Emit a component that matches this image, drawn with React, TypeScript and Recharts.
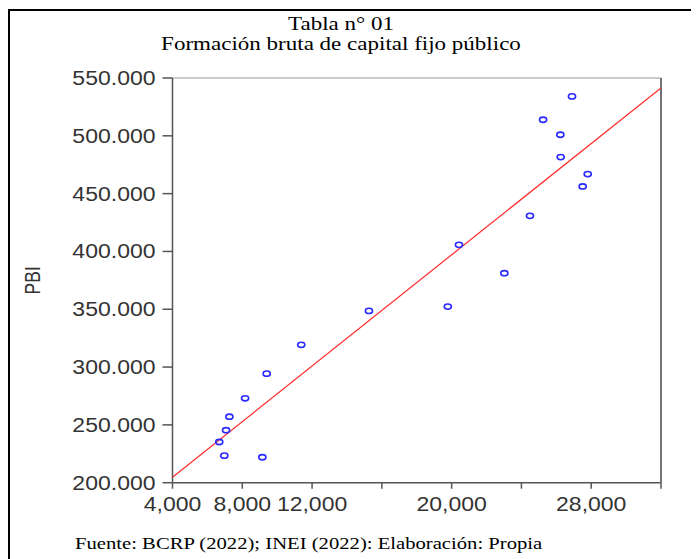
import { ScatterChart, Scatter, XAxis, YAxis, ReferenceLine } from "recharts";

// Formación bruta de capital fijo público (x) vs PBI (y)
const fbkfPublico = [6970, 9150, 6680, 7070, 7260, 8160, 9400, 11380, 15260, 19780, 23020, 20420, 24490, 27510, 27800, 26250, 26230, 25240, 26900];
const pbi = [223400, 222000, 235200, 245400, 257100, 273000, 294300, 319200, 348600, 352300, 381200, 405700, 430800, 456200, 466900, 481600, 500900, 513900, 534100];

// fitted line, read at both ends of the x axis
const fitX = [4000, 32000];
const fitY = [204700, 541400];

const xTicks = [4000, 8000, 12000, 16000, 20000, 24000, 28000, 32000];
const xLabeled = [4000, 8000, 12000, 20000, 28000];
const yTicks = [200000, 250000, 300000, 350000, 400000, 450000, 500000, 550000];

const points = fbkfPublico.map((x, i) => ({ x, y: pbi[i] }));
const fit = fitX.map((x, i) => ({ x, y: fitY[i] }));

const SANS = "'Liberation Sans', Arial, sans-serif";
const SERIF = "'Liberation Serif', 'Times New Roman', serif";
const STRETCH = 1.18;

const fmtX = (v: number) => `${Math.floor(v / 1000)},${String(v % 1000).padStart(3, "0")}`;
const fmtY = (v: number) => (v / 1000).toFixed(3);

function XTick({ x, y, payload }: any) {
  if (!xLabeled.includes(payload.value)) return null;
  return (
    <g transform={`translate(${x},${y + 20}) scale(${STRETCH},1)`}>
      <text textAnchor="middle" fontFamily={SANS} fontSize={19.5} fill="#333">
        {fmtX(payload.value)}
      </text>
    </g>
  );
}

function YTick({ x, y, payload }: any) {
  return (
    <g transform={`translate(${x},${y + 7}) scale(${STRETCH},1)`}>
      <text textAnchor="end" fontFamily={SANS} fontSize={19.5} fill="#333">
        {fmtY(payload.value)}
      </text>
    </g>
  );
}

function Ring({ cx, cy }: any) {
  return <ellipse cx={cx} cy={cy} rx={3.6} ry={2.6} fill="none" stroke="#2b2bff" strokeWidth={1.6} />;
}

function PbiLabel({ viewBox }: any) {
  const cy = viewBox.y + viewBox.height / 2;
  return (
    <g transform={`translate(${viewBox.x + 24},${cy}) rotate(-90) scale(1,1.25)`}>
      <text textAnchor="middle" dy={6} fontFamily={SANS} fontSize={17.5} fill="#333">
        PBI
      </text>
    </g>
  );
}

export default function App() {
  return (
    <div style={{ position: "relative", width: 691, height: 551, background: "#fff" }}>
      <div
        style={{
          position: "absolute",
          left: 0,
          top: 1,
          width: 689,
          height: 550,
          borderTop: "2px solid #000",
          borderLeft: "2px solid #000",
        }}
      />
      <div
        style={{
          position: "absolute",
          left: 0,
          top: 6,
          width: 666,
          textAlign: "center",
          fontFamily: SERIF,
          fontSize: 19.5,
          lineHeight: "20px",
          color: "#000",
          transform: `scaleX(${STRETCH})`,
          transformOrigin: "333px 0",
        }}
      >
        <div>Tabla n° 01</div>
        <div>Formación bruta de capital fijo público</div>
      </div>

      <ScatterChart width={691} height={551} margin={{ top: 70, right: 38, bottom: 0, left: 0 }}>
        <XAxis
          type="number"
          dataKey="x"
          domain={[4000, 32000]}
          ticks={xTicks}
          interval={0}
          allowDataOverflow
          height={76.3}
          tickSize={6}
          tickMargin={2}
          tick={<XTick />}
          axisLine={{ stroke: "#555", strokeWidth: 1.5 }}
          tickLine={{ stroke: "#555", strokeWidth: 1.5 }}
        />
        <YAxis
          type="number"
          dataKey="y"
          domain={[200000, 550000]}
          ticks={yTicks}
          interval={0}
          allowDataOverflow
          width={164.5}
          tickSize={10}
          tickMargin={7}
          tick={<YTick />}
          axisLine={{ stroke: "#555", strokeWidth: 1.5 }}
          tickLine={{ stroke: "#555", strokeWidth: 1.5 }}
          label={<PbiLabel />}
        />
        <ReferenceLine y={550000} stroke="#bbb" strokeWidth={1.5} />
        <ReferenceLine x={32000} stroke="#444" strokeWidth={1.5} />
        <Scatter
          data={fit}
          line={{ stroke: "#ff2a2a", strokeWidth: 1.2 }}
          shape={() => <g />}
          isAnimationActive={false}
        />
        <Scatter data={points} shape={<Ring />} isAnimationActive={false} />
      </ScatterChart>

      <div
        style={{
          position: "absolute",
          left: 67,
          top: 525,
          fontFamily: SERIF,
          fontSize: 17.5,
          lineHeight: "20px",
          color: "#000",
          whiteSpace: "nowrap",
          transform: `scaleX(${STRETCH})`,
          transformOrigin: "0 0",
        }}
      >
        Fuente: BCRP (2022); INEI (2022): Elaboración: Propia
      </div>
    </div>
  );
}
